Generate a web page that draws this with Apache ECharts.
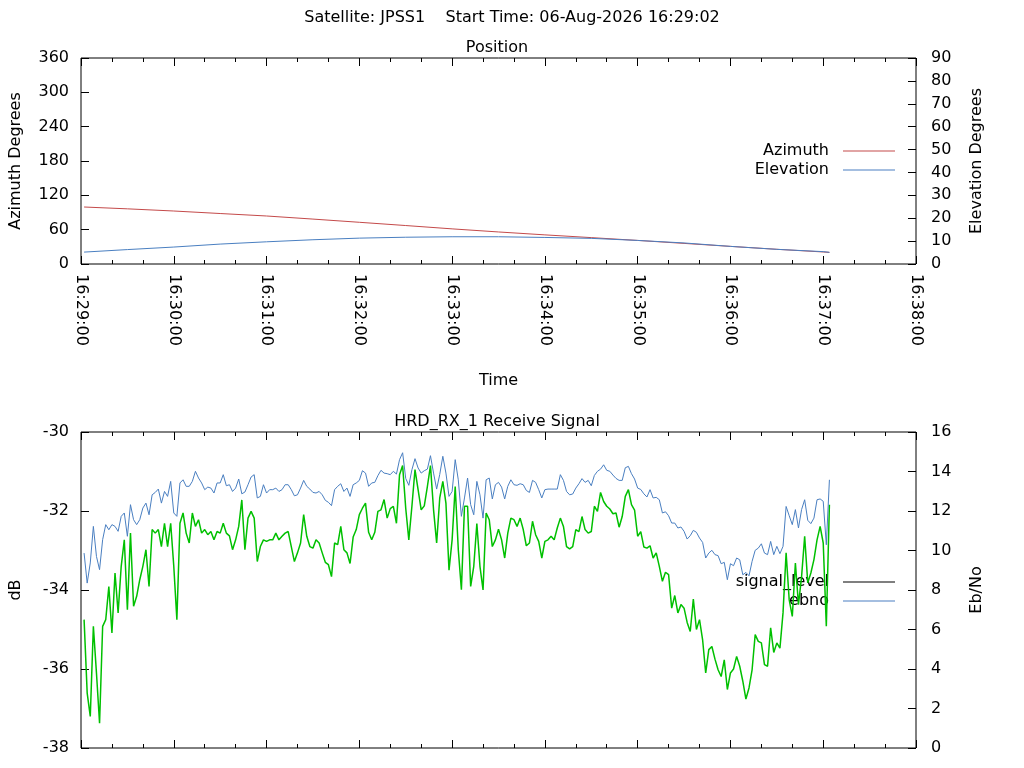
<!DOCTYPE html>
<html>
<head>
<meta charset="UTF-8">
<title>JPSS1 pass - HRD_RX_1</title>
<script src="https://cdn.jsdelivr.net/npm/echarts@6/dist/echarts.min.js"></script>
<style>
body { margin: 0; background-color: #fff; }
#main { width: 1024px; height: 768px; }
</style>
</head>
<body>
<div id="main"></div>
<script>
// all times are seconds after 16:29:00
var posTime = [2, 30, 60, 90, 120, 150, 180, 210, 240, 270, 300, 330, 360, 390, 420, 450, 480, 484];
var azimuth = [99.6, 96.4, 92.6, 88.2, 83.9, 78.5, 72.9, 67.2, 61.4, 56.0, 50.9, 46.1, 41.2, 36.0, 30.8, 25.7, 21.0, 20.3];
var elevation = [5.2, 6.3, 7.4, 8.7, 9.7, 10.6, 11.3, 11.7, 11.9, 11.9, 11.6, 11.2, 10.3, 9.2, 7.7, 6.4, 5.4, 5.1];

// receive samples: first at 16:29:02, one every 2 s
var sigStart = 2;
var sigStep = 2;
var signalLevel = [
  -34.75, -36.61, -37.20, -34.92, -36.10, -37.37, -34.92, -34.75, -33.91, -35.09, -33.57, -34.58, -33.40, -32.73,
  -34.50, -32.56, -34.41, -34.16, -33.74, -33.40, -32.98, -33.91, -32.47, -32.56, -32.47, -32.90, -32.31, -32.90,
  -32.31, -33.40, -34.75, -32.31, -32.05, -32.56, -32.81, -32.05, -32.39, -32.22, -32.56, -32.47, -32.60, -32.52,
  -32.73, -32.52, -32.56, -32.31, -32.56, -32.63, -32.98, -32.73, -32.39, -31.72, -32.98, -32.18, -32.01, -32.18,
  -33.28, -32.90, -32.73, -32.77, -32.73, -32.73, -32.56, -32.73, -32.64, -32.56, -32.52, -32.90, -33.28, -33.06,
  -32.81, -32.09, -32.64, -32.90, -32.94, -32.73, -32.81, -33.06, -33.30, -33.36, -33.66, -32.81, -32.85,
  -32.39, -32.98, -33.06, -33.33, -32.66, -32.47, -32.09, -31.93, -31.80, -32.54, -32.73, -32.54, -32.01, -31.97,
  -31.71, -32.18, -31.94, -31.88, -32.31, -31.08, -30.85, -31.93, -32.73, -31.88, -30.95, -31.46, -31.97, -31.87,
  -31.38, -30.85, -31.97, -32.81, -31.67, -31.25, -31.80, -33.50, -32.73, -31.38, -32.98, -33.99, -31.88, -31.88,
  -33.91, -33.40, -32.32, -33.40, -34.00, -32.05, -32.22, -32.90, -32.73, -32.46, -32.73, -33.19, -32.56, -32.18,
  -32.22, -32.39, -32.18, -32.47, -32.88, -32.81, -32.26, -32.60, -32.77, -33.19, -32.77, -32.73, -32.64, -32.73,
  -32.43, -32.18, -32.39, -32.90, -32.96, -32.90, -32.47, -32.52, -32.14, -32.47, -32.56, -32.52, -31.88, -32.01,
  -31.53, -31.76, -31.88, -31.95, -32.07, -32.05, -32.41, -32.14, -31.63, -31.46, -31.84, -31.98, -32.64, -32.52,
  -32.91, -32.94, -32.88, -33.19, -33.06, -33.40, -33.78, -33.55, -33.61, -34.46, -34.14, -34.58, -34.37, -34.46,
  -34.82, -35.05, -34.23, -35.00, -34.75, -35.26, -36.10, -35.51, -35.43, -35.75, -36.02, -36.19, -35.77, -36.52,
  -36.10, -36.00, -35.68, -35.93, -36.31, -36.76, -36.48, -36.02, -35.13, -35.30, -35.34, -35.89, -35.93, -34.96,
  -35.58, -35.34, -35.47, -34.58, -33.06, -34.25, -34.67, -33.32, -34.37, -33.66, -32.64, -33.82, -33.57, -33.23,
  -32.73, -32.39, -32.81, -34.92, -31.84
];
var ebno = [
  9.87, 8.35, 9.37, 11.22, 9.70, 9.03, 10.55, 11.31, 11.05, 11.31, 11.22, 10.97, 11.73, 11.90,
  10.72, 12.32, 11.56, 11.31, 11.56, 12.15, 12.40, 11.81, 12.82, 12.94, 13.11, 12.40, 12.99, 12.74,
  13.50, 11.90, 11.73, 13.42, 13.58, 13.25, 13.25, 13.50, 14.01, 13.67, 13.42, 13.08, 13.21, 13.16,
  12.91, 13.42, 13.42, 13.84, 13.28, 13.33, 12.99, 13.16, 13.62, 12.87, 12.96, 13.33, 13.72, 13.84,
  12.66, 12.74, 13.33, 12.91, 13.08, 13.08, 13.16, 12.99, 13.08, 13.33, 13.33, 13.08, 12.77, 12.82,
  13.16, 13.55, 13.25, 13.11, 12.94, 12.91, 12.99, 12.82, 12.54, 12.44, 12.27, 13.08, 13.25,
  13.38, 12.99, 13.16, 12.74, 13.33, 13.42, 13.55, 14.04, 13.92, 13.25, 13.42, 13.45, 13.79, 14.06,
  13.92, 13.89, 13.84, 14.01, 13.87, 14.60, 14.95, 13.65, 13.30, 14.09, 14.65, 14.18, 13.92, 14.04,
  14.12, 14.80, 13.92, 13.11, 13.85, 14.77, 13.92, 12.74, 12.99, 14.60, 13.58, 11.73, 12.66, 13.67,
  12.32, 11.81, 13.50, 12.82, 11.64, 13.58, 13.67, 12.61, 13.33, 13.45, 13.21, 12.61, 13.25, 13.58,
  13.33, 13.30, 13.38, 13.33, 13.04, 12.94, 13.55, 13.45, 13.08, 12.66, 13.08, 13.11, 13.11, 13.11,
  13.11, 13.84, 13.55, 12.99, 12.82, 12.86, 13.16, 13.38, 13.64, 13.45, 13.55, 13.28, 13.80, 14.01,
  14.12, 14.34, 14.06, 14.01, 13.82, 13.65, 13.55, 13.55, 14.19, 14.26, 13.89, 13.62, 13.16, 13.09,
  12.87, 12.71, 13.08, 12.66, 12.69, 12.57, 11.90, 11.96, 11.76, 11.39, 11.39, 11.14, 11.19, 10.97,
  10.58, 10.75, 11.02, 10.92, 10.63, 10.41, 9.62, 9.87, 10.01, 9.79, 9.74, 9.33, 9.40, 8.52,
  9.33, 9.23, 9.62, 9.53, 8.77, 8.89, 8.72, 9.45, 10.01, 10.12, 10.34, 9.87, 9.79, 10.46,
  9.79, 10.21, 9.84, 10.21, 12.23, 11.76, 11.31, 12.07, 11.14, 12.07, 12.57, 11.53, 11.36, 11.64,
  12.57, 12.61, 12.49, 10.29, 13.58
];

var chartTitle = 'Satellite: JPSS1    Start Time: 06-Aug-2026 16:29:02';

function pad(n) { return (n < 10 ? '0' : '') + n; }
function clock(s) {
    var m = 29 + Math.floor(s / 60);
    return '16:' + pad(m) + ':' + pad(s % 60);
}
function pairs(times, vals) {
    return vals.map(function (v, i) { return [times[i], v]; });
}
var sigTime = signalLevel.map(function (v, i) { return sigStart + i * sigStep; });

var font = 'DejaVu Sans';
var txt = { fontFamily: font, fontSize: 16, color: '#000', fontWeight: 'normal' };
// fresh objects for every axis, sharing one made the y ticks go astray
function tick() {
    return { show: true, inside: true, length: 8, lineStyle: { color: '#000', width: 1 } };
}
function minor() {
    return { show: true, splitNumber: 3, length: 4, lineStyle: { color: '#000', width: 1 } };
}

function timeAxis(grid, pos, labels) {
    return {
        type: 'value', gridIndex: grid, position: pos, min: 0, max: 540, interval: 60,
        axisLine: { show: false, onZero: false },
        axisTick: tick(), minorTick: minor(),
        splitLine: { show: false }, minorSplitLine: { show: false },
        axisLabel: labels ? Object.assign({ rotate: -90, margin: 10, formatter: clock }, txt) : { show: false }
    };
}
function valAxis(grid, pos, min, max, step, name, gap) {
    return {
        type: 'value', gridIndex: grid, position: pos, min: min, max: max, interval: step,
        name: name, nameLocation: 'middle', nameRotate: 90, nameGap: gap, nameTextStyle: txt,
        axisLine: { show: false, onZero: false },
        axisTick: tick(), splitLine: { show: false },
        axisLabel: Object.assign({ margin: pos === 'left' ? 12 : 15 }, txt)
    };
}

var chart = echarts.init(document.getElementById('main'));

var xTop = timeAxis(0, 'bottom', true);
xTop.name = 'Time';
xTop.nameLocation = 'middle';
xTop.nameGap = 109;
xTop.nameTextStyle = txt;

var option = {
    animation: false,
    backgroundColor: '#fff',
    title: [
        { text: chartTitle, left: 'center', top: 10, padding: 0, textStyle: txt },
        { text: 'Position', left: 497, textAlign: 'center', top: 40, padding: 0, textStyle: txt },
        { text: 'HRD_RX_1 Receive Signal', left: 497, textAlign: 'center', top: 414, padding: 0, textStyle: txt }
    ],
    legend: [
        {
            orient: 'vertical', right: 129, top: 143, align: 'right', icon: 'rect', padding: 0,
            itemWidth: 52, itemHeight: 1, itemGap: 3, selectedMode: false,
            textStyle: Object.assign({ padding: [0, 9, 0, 0], lineHeight: 16 }, txt),
            data: ['Azimuth', 'Elevation']
        },
        {
            orient: 'vertical', right: 129, top: 574, align: 'right', icon: 'rect', padding: 0, z: 1,
            itemWidth: 52, itemHeight: 1, itemGap: 3, selectedMode: false,
            textStyle: Object.assign({ padding: [0, 9, 0, 0], lineHeight: 16 }, txt),
            data: [{ name: 'signal_level', itemStyle: { color: '#000' } }, 'ebno']
        }
    ],
    grid: [
        { left: 79, top: 58, width: 837, height: 206, show: true, borderColor: '#000', borderWidth: 1 },
        { left: 79, top: 432, width: 837, height: 316, show: true, borderColor: '#000', borderWidth: 1 }
    ],
    xAxis: [
        xTop,
        timeAxis(0, 'top', false),
        timeAxis(1, 'bottom', false),
        timeAxis(1, 'top', false)
    ],
    yAxis: [
        valAxis(0, 'left', 0, 360, 60, 'Azimuth Degrees', 57),
        valAxis(0, 'right', 0, 90, 10, 'Elevation Degrees', 53),
        valAxis(1, 'left', -38, -30, 2, 'dB', 57),
        valAxis(1, 'right', 0, 16, 2, 'Eb/No', 53)
    ],
    series: [
        {
            name: 'Azimuth', type: 'line', xAxisIndex: 0, yAxisIndex: 0, showSymbol: false,
            lineStyle: { color: '#c44a4a', width: 1 }, itemStyle: { color: '#c44a4a' },
            data: pairs(posTime, azimuth)
        },
        {
            name: 'Elevation', type: 'line', xAxisIndex: 0, yAxisIndex: 1, showSymbol: false,
            lineStyle: { color: '#4a7fc1', width: 1 }, itemStyle: { color: '#4a7fc1' },
            data: pairs(posTime, elevation)
        },
        {
            name: 'signal_level', type: 'line', xAxisIndex: 2, yAxisIndex: 2, showSymbol: false,
            lineStyle: { color: '#00c000', width: 1.5 }, itemStyle: { color: '#00c000' },
            data: pairs(sigTime, signalLevel)
        },
        {
            name: 'ebno', type: 'line', xAxisIndex: 2, yAxisIndex: 3, showSymbol: false,
            lineStyle: { color: '#4a7fc1', width: 1 }, itemStyle: { color: '#4a7fc1' },
            data: pairs(sigTime, ebno)
        }
    ]
};
chart.setOption(option);
</script>
</body>
</html>
